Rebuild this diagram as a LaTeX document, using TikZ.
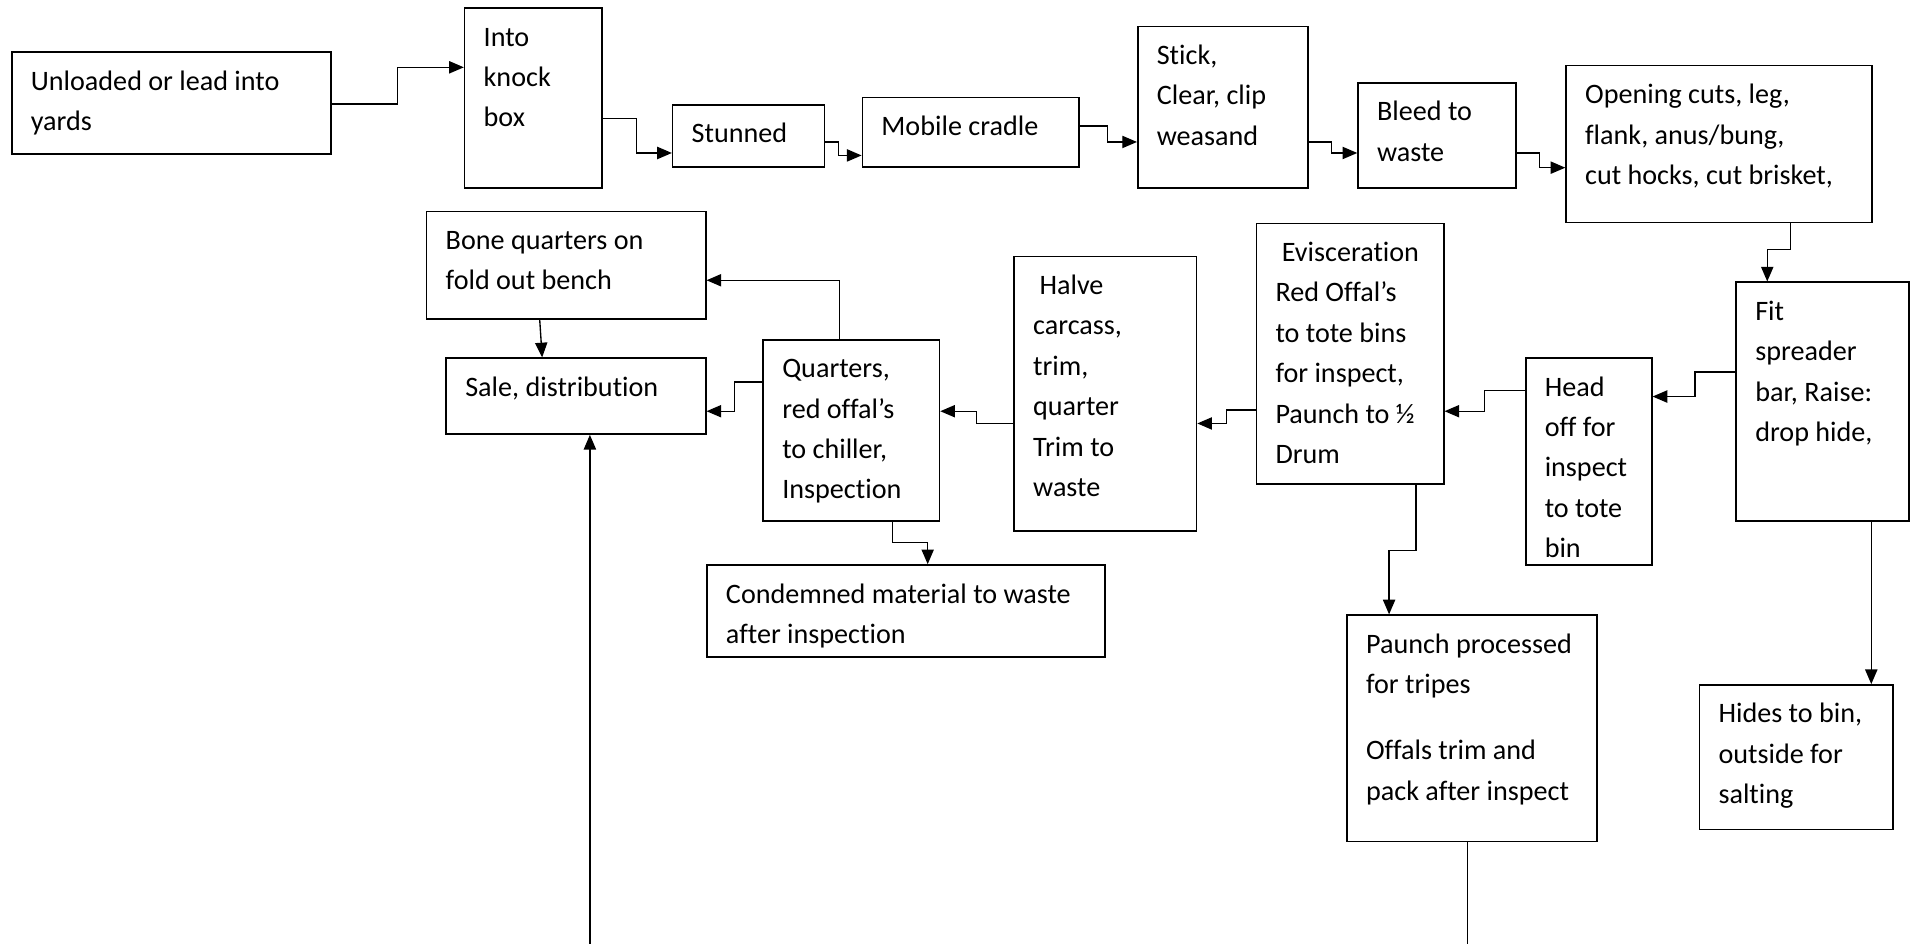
\documentclass[tikz,border=0pt]{standalone}
\usepackage{fontspec}
\setmainfont[Ligatures={NoCommon,NoContextual},Contextuals=NoAlternate]{Carlito}
\usetikzlibrary{arrows.meta}
\tikzset{
  flowbox/.style={draw, line width=1.3pt, inner sep=0pt, anchor=north west},
  flowtxt/.style={anchor=north west, inner sep=0pt, align=left, font=\fontsize{23}{33}\selectfont},
  conn/.style={line width=1.1pt, -{Triangle[length=12pt,width=10pt]}},
  plain/.style={line width=1.1pt}
}
\newcommand{\mkbox}[6]{%
  \node[flowbox, minimum width=#4pt, minimum height=#5pt] (#1) at (#2,#3) {};
  \node[flowtxt] (t#1) at ([shift={(16pt,-11.5pt)}]#1.north west) {\rule{0pt}{20pt}#6};
}
\begin{document}
\begin{tikzpicture}[x=1pt,y=-1pt]
\useasboundingbox (0,0) rectangle (1568,771);
\mkbox{A}{9}{42}{261}{83}{Unloaded or lead into\\yards}
\mkbox{B}{379}{6}{112}{147}{Into\\knock\\box}
\mkbox{C}{549}{85}{124}{51}{Stunned}
\mkbox{D}{704}{79}{177}{57}{Mobile cradle}
\mkbox{E}{929}{21}{139}{132}{Stick,\\Clear, clip\\weasand}
\mkbox{F}{1109}{67}{129}{86}{Bleed to\\waste}
\mkbox{G}{1279}{53}{250}{128}{Opening cuts, leg,\\flank, anus/bung,\\cut hocks, cut brisket,}
\mkbox{H}{1418}{230}{141}{195}{Fit\\spreader\\bar, Raise:\\drop hide,}
\mkbox{I}{1246}{292}{103}{169}{Head\\off for\\inspect\\to tote\\bin}
\mkbox{J}{1026}{182}{153}{213}{\ Evisceration\\Red Offal’s\\to tote bins\\for inspect,\\Paunch to ½\\Drum}
\mkbox{K}{828}{209}{149}{224}{\ Halve\\carcass,\\trim,\\quarter\\Trim to\\waste}
\mkbox{L}{623}{277}{144}{148}{Quarters,\\red offal’s\\to chiller,\\Inspection}
\mkbox{M}{348}{172}{228}{88}{Bone quarters on\\fold out bench}
\mkbox{N}{364}{292}{212}{62}{Sale, distribution}
\mkbox{O}{577}{461}{325}{75}{Condemned material to waste\\after inspection}
\mkbox{P}{1100}{502}{204}{185}{Paunch processed\\for tripes\\[21pt]Offals trim and\\pack after inspect}
\mkbox{Q}{1388}{559}{158}{118}{Hides to bin,\\outside for\\salting}
\coordinate (pend) at (1199,771);
\coordinate (nstart) at (482,771);
\draw[conn] (A.east|-0,85) -- (325,85) |- (B.west|-0,55);
\draw[conn] (B.east|-0,97) -- (520,97) |- (C.west|-0,125);
\draw[conn] (C.east|-0,116) -- (685,116) |- (D.west|-0,127);
\draw[conn] (D.east|-0,103) -- (905,103) |- (E.west|-0,116);
\draw[conn] (E.east|-0,116) -- (1088,116) |- (F.west|-0,125);
\draw[conn] (F.east|-0,125) -- (1258,125) |- (G.west|-0,137);
\draw[conn] (G.south-|1463,0) -- (1463,204) -| (H.north-|1444,0);
\draw[conn] (H.west|-0,304) -- (1385,304) |- (I.east|-0,324);
\draw[conn] (I.west|-0,319) -- (1213,319) |- (J.east|-0,336);
\draw[conn] (J.west|-0,335) -- (1002,335) |- (K.east|-0,346);
\draw[conn] (J.south-|1157,0) -- (1157,450) -| (P.north-|1135,0);
\draw[conn] (K.west|-0,346) -- (798,346) |- (L.east|-0,336);
\draw[conn] (L.north-|686,0) |- (M.east|-0,229);
\draw[conn] (L.west|-0,312) -- (600,312) |- (N.east|-0,336);
\draw[conn] (L.south-|729,0) -- (729,443) -| (O.north-|758,0);
\draw[conn] (M.south-|441,0) -- (N.north-|443,0);
\draw[conn] (H.south-|1529,0) -- (Q.north-|1529,0);
\draw[plain] (P.south-|1199,0) -- (pend);
\draw[conn] (nstart) -- (N.south-|482,0);
\end{tikzpicture}
\end{document}
